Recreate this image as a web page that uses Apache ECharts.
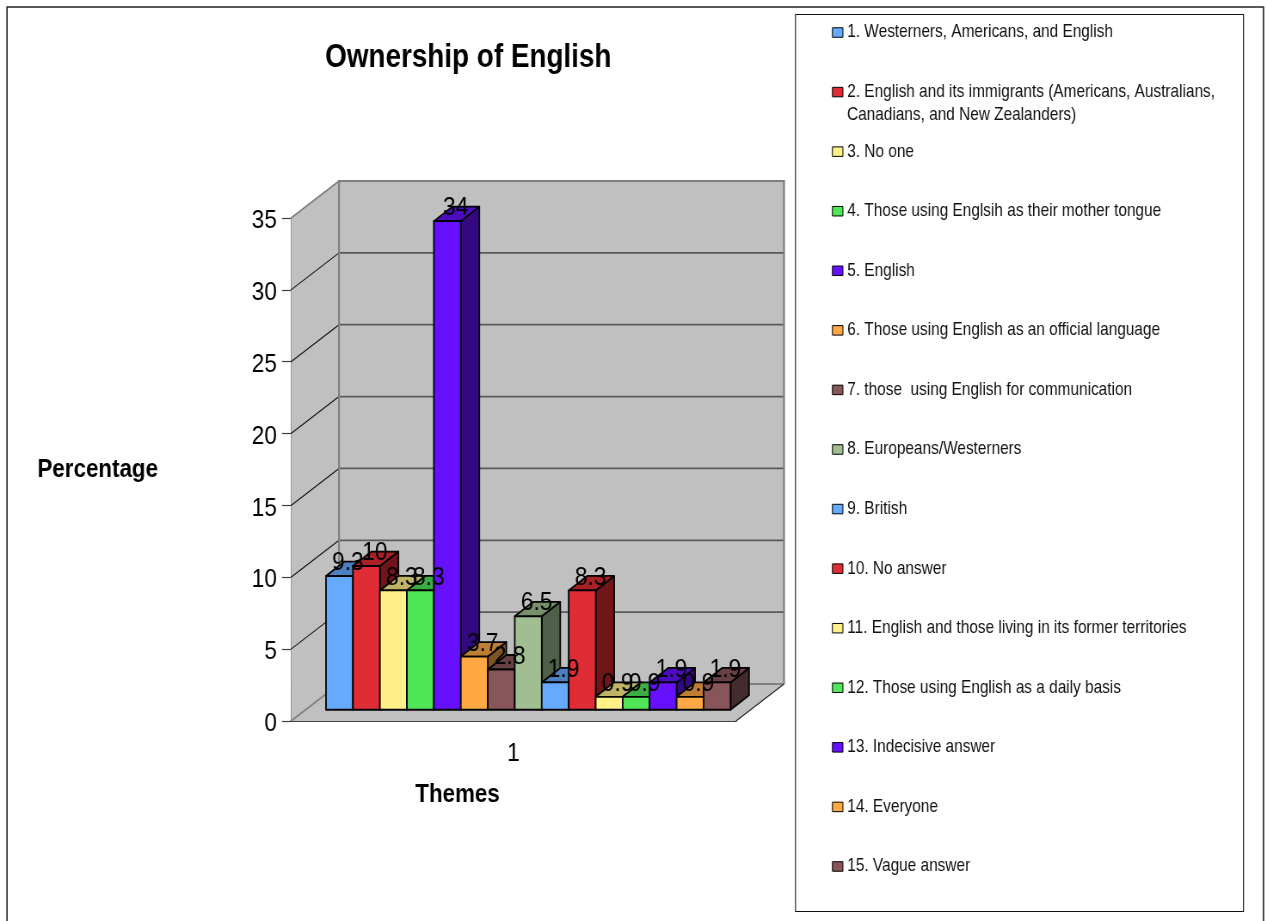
<!DOCTYPE html>
<html>
<head>
<meta charset="utf-8">
<style>html,body{margin:0;padding:0;background:#fff;overflow:hidden;width:1267px;height:921px}#c{width:1473px;height:921px;transform:scaleX(0.86015);transform-origin:0 0}</style>
<script src="https://cdn.jsdelivr.net/npm/echarts@6/dist/echarts.min.js"></script>
</head>
<body>
<div id="c"></div>
<script>
const categories = ['1'];
const themes = [
  '1. Westerners, Americans, and English',
  '2. English and its immigrants (Americans, Australians,\nCanadians, and New Zealanders)',
  '3. No one',
  '4. Those using Englsih as their mother tongue',
  '5. English',
  '6. Those using English as an official language',
  '7. those  using English for communication',
  '8. Europeans/Westerners',
  '9. British',
  '10. No answer',
  '11. English and those living in its former territories',
  '12. Those using English as a daily basis',
  '13. Indecisive answer',
  '14. Everyone',
  '15. Vague answer'
];
const values = [9.3, 10, 8.3, 8.3, 34, 3.7, 2.8, 6.5, 1.9, 8.3, 0.9, 0.9, 1.9, 0.9, 1.9];
const colors = ['#66AAFF','#E02C34','#FFF088','#50E658','#6610FF','#FFA844','#88555A','#A0BE91','#66AAFF','#E02C34','#FFF088','#50E658','#6610FF','#FFA844','#88555A'];
const yTicks = [0, 5, 10, 15, 20, 25, 30, 35];

// the picture is horizontally condensed: the canvas is drawn wider and squeezed by S
const S = 1267 / 1473;
const px = v => v / S;
const WALL_DX = px(48), WALL_DY = -37, BAR_DX = px(18.5), BAR_DY = -14.5;
const SANS = '"Liberation Sans",Arial,sans-serif';

function shade(hex, f) {
  const n = parseInt(hex.slice(1), 16);
  return 'rgb(' + [n >> 16, (n >> 8) & 255, n & 255].map(c => Math.round(c * f)).join(',') + ')';
}

function renderWall(params, api) {
  const v = api.value(1);
  const p = api.coord([0, v]);
  const band = api.size([1, 0])[0];
  const x0 = p[0] - band / 2, x1 = p[0] + band / 2;
  const y0 = api.coord([0, 0])[1];
  const yTop = api.coord([0, yTicks[yTicks.length - 1]])[1];
  const children = [];
  const edge = v === 0 || v === yTicks[yTicks.length - 1];
  if (params.dataIndex === 0) {
    const wall = { fill: '#C0C0C0', stroke: null };
    children.push({ type: 'polygon', z2: 0, shape: { points: [[x0, y0], [x0 + WALL_DX, y0 + WALL_DY], [x0 + WALL_DX, yTop + WALL_DY], [x0, yTop]] }, style: wall });
    children.push({ type: 'polygon', z2: 0, shape: { points: [[x0 + WALL_DX, y0 + WALL_DY], [x1 + WALL_DX, y0 + WALL_DY], [x1 + WALL_DX, yTop + WALL_DY], [x0 + WALL_DX, yTop + WALL_DY]] }, style: wall });
    children.push({ type: 'polygon', z2: 0, shape: { points: [[x0, y0], [x1, y0], [x1 + WALL_DX, y0 + WALL_DY], [x0 + WALL_DX, y0 + WALL_DY]] }, style: wall });
    children.push({ type: 'polyline', z2: 2, shape: { points: [[x0 + WALL_DX, y0 + WALL_DY], [x0 + WALL_DX, yTop + WALL_DY], [x1 + WALL_DX, yTop + WALL_DY], [x1 + WALL_DX, y0 + WALL_DY]] }, style: { fill: null, stroke: '#808080', lineWidth: 2.2 } });
    children.push({ type: 'line', z2: 2, shape: { x1: x1, y1: y0, x2: x1 + WALL_DX, y2: y0 + WALL_DY }, style: { stroke: '#202020', lineWidth: 1.1 } });
  }
  children.push({ type: 'line', z2: 1, shape: { x1: x0, y1: p[1], x2: x0 + WALL_DX, y2: p[1] + WALL_DY }, style: { stroke: edge ? '#808080' : '#101010', lineWidth: edge ? 1.6 : 1.1 } });
  children.push({ type: 'line', z2: 1, shape: { x1: x0 + WALL_DX, y1: p[1] + WALL_DY, x2: x1 + WALL_DX, y2: p[1] + WALL_DY }, style: { stroke: edge ? '#808080' : '#5a5a5a', lineWidth: 1.8 } });
  return { type: 'group', children };
}

function renderBar(i) {
  return function (params, api) {
    const top = api.coord([0, api.value(1)]);
    const base = api.coord([0, 0]);
    const band = api.size([1, 0])[0];
    const w = band / (themes.length + 1.5);
    const gapX = (WALL_DX - BAR_DX) / 2, gapY = (WALL_DY - BAR_DY) / 2;
    const x = base[0] - band / 2 + gapX + w * (0.75 + i);
    const yT = top[1] + gapY, yB = base[1] + gapY;
    const c = colors[i];
    const line = { stroke: '#000', lineWidth: 1.8, lineJoin: 'round' };
    return {
      type: 'group',
      children: [
        { type: 'polygon', z2: 10 + i, shape: { points: [[x + w, yT], [x + w + BAR_DX, yT + BAR_DY], [x + w + BAR_DX, yB + BAR_DY], [x + w, yB]] }, style: Object.assign({ fill: shade(c, 0.5) }, line) },
        { type: 'polygon', z2: 10 + i, shape: { points: [[x, yT], [x + BAR_DX, yT + BAR_DY], [x + w + BAR_DX, yT + BAR_DY], [x + w, yT]] }, style: Object.assign({ fill: shade(c, 0.75) }, line) },
        { type: 'rect', z2: 10 + i, shape: { x: x, y: yT, width: w, height: yB - yT }, style: Object.assign({ fill: c }, line) },
        { type: 'text', z2: 100, style: { text: String(api.value(1)), x: x + (w + BAR_DX) / 2 - 1, y: yT + BAR_DY / 2 + 7.5, align: 'center', verticalAlign: 'bottom', font: '26.5px ' + SANS, fill: '#000' } }
      ]
    };
  };
}

const series = [{
  type: 'custom', name: 'walls', silent: true, coordinateSystem: 'cartesian2d', clip: false,
  data: yTicks.map(v => [0, v]), encode: { x: 0, y: 1 }, renderItem: renderWall, z: 1
}].concat(themes.map((name, i) => ({
  type: 'custom', name, silent: true, coordinateSystem: 'cartesian2d', clip: false,
  itemStyle: { color: colors[i] },
  data: [[0, values[i]]], encode: { x: 0, y: 1 }, renderItem: renderBar(i), z: 2
})));

const LEGEND_Y0 = 32.5, LEGEND_STEP = 59.57;
const legends = themes.map((name, i) => ({
  data: [name], orient: 'vertical', left: px(832), top: LEGEND_Y0 + LEGEND_STEP * i - 10, padding: 0,
  icon: 'rect', itemWidth: px(10.5), itemHeight: 9.5, selectedMode: false,
  itemStyle: { borderColor: '#000', borderWidth: 1 },
  formatter: n => n.split('\n')[0],
  textStyle: { fontFamily: SANS, fontSize: 17.9, color: '#111', lineHeight: 20 }
}));

const chart = echarts.init(document.getElementById('c'), null, { renderer: 'canvas', width: 1473, height: 921 });
chart.setOption({
  animation: false,
  backgroundColor: '#fff',
  title: { text: 'Ownership of English', left: px(464), top: 37, textAlign: 'center', textStyle: { fontFamily: SANS, fontWeight: 'bold', fontSize: 32.4, color: '#000' } },
  legend: legends,
  grid: { left: px(291), top: 218, width: px(445), height: 503, outerBoundsMode: 'none' },
  xAxis: {
    type: 'category', data: categories, name: 'Themes', nameLocation: 'middle', nameGap: 61,
    nameTextStyle: { fontFamily: SANS, fontWeight: 'bold', fontSize: 26, color: '#000', padding: [0, px(112), 0, 0] },
    axisLine: { lineStyle: { color: '#404040', width: 2 } },
    axisTick: { length: 10, lineStyle: { color: '#606060', width: 1.6 } },
    axisLabel: { fontFamily: SANS, fontSize: 26.5, color: '#000', margin: 19 }
  },
  yAxis: {
    type: 'value', min: 0, max: 35, interval: 5, name: 'Percentage', nameLocation: 'middle', nameRotate: 0, nameGap: px(133),
    nameTextStyle: { fontFamily: SANS, fontWeight: 'bold', fontSize: 26, color: '#000' },
    axisLine: { show: true, lineStyle: { color: '#000', width: 1.6 } },
    axisTick: { show: true, length: px(9), lineStyle: { color: '#404040', width: 1.2 } },
    axisLabel: { fontFamily: SANS, fontSize: 26.5, color: '#000', margin: px(14), verticalAlign: 'top', lineHeight: 5.6 },
    splitLine: { show: false }
  },
  series,
  graphic: [
    { type: 'polyline', silent: true, shape: { points: [[px(7), 921], [px(7), 7], [px(1263.5), 7], [px(1263.5), 921]] }, style: { fill: null, stroke: '#222', lineWidth: 1.6 } },
    { type: 'rect', silent: true, z: -1, shape: { x: px(795.5), y: 14.5, width: px(448), height: 897 }, style: { fill: '#fff', stroke: '#111', lineWidth: 1.1 } },
    { type: 'text', silent: true, left: px(847), top: 106, style: { text: 'Canadians, and New Zealanders)', font: '17.9px ' + SANS, fill: '#111' } }
  ]
});
</script>
</body>
</html>
